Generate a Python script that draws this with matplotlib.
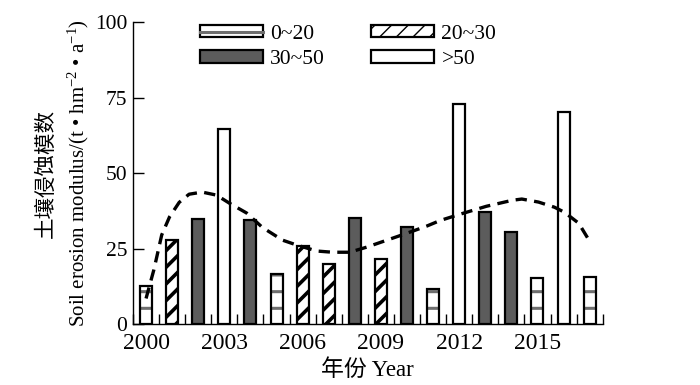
import matplotlib
matplotlib.use("Agg")
import matplotlib.pyplot as plt
from matplotlib.patches import Patch
from matplotlib.lines import Line2D
from matplotlib.legend_handler import HandlerTuple
import numpy as np

plt.rcParams['font.family'] = ['Liberation Serif', 'Noto Sans CJK SC']
plt.rcParams['mathtext.fontset'] = 'custom'
plt.rcParams['mathtext.rm'] = 'Liberation Serif'
plt.rcParams['mathtext.it'] = 'Liberation Serif:italic'

# ---- data ----
years = list(range(2000, 2018))
values = [12.5, 28.0, 34.8, 64.5, 34.5, 16.5, 26.0, 20.0, 35.0, 21.5,
          32.2, 11.6, 73.0, 37.0, 30.5, 15.2, 70.2, 15.6]
classes = ['0~20', '20~30', '30~50', '>50', '30~50', '0~20', '20~30', '20~30', '30~50', '20~30',
           '30~50', '0~20', '>50', '30~50', '30~50', '0~20', '>50', '0~20']
legend_labels = ['0~20', '20~30', '30~50', '>50']

curve_years = [2000.0, 2000.3, 2000.6, 2000.9, 2001.27, 2001.65, 2002.15, 2002.7, 2003.2,
               2003.85, 2004.46, 2005.23, 2005.77, 2006.54, 2007.15, 2007.8, 2008.46,
               2009.23, 2010.0, 2010.77, 2011.27, 2012.04, 2013.04, 2014.04, 2014.4,
               2015.04, 2015.65, 2016.04, 2016.58, 2016.96]
curve_values = [8.5, 18.0, 29.5, 35.5, 40.3, 43.0, 43.7, 42.7, 40.0,
                36.8, 32.0, 27.8, 26.2, 24.2, 23.8, 23.8, 25.5,
                27.8, 30.1, 32.5, 34.3, 36.4, 39.0, 41.0, 41.4,
                40.4, 38.7, 37.0, 33.4, 28.0]

x_ticks = [2000, 2003, 2006, 2009, 2012, 2015]
y_ticks = [0, 25, 50, 75, 100]

# ---- styles ----
styles = {
    '0~20':  dict(face='white', hatch='-', hcol='#6e6e6e', hlw=2.2),
    '20~30': dict(face='white', hatch='//', hcol='black', hlw=2.6),
    '30~50': dict(face='#5c5c5c', hatch=None, hcol='#5c5c5c', hlw=1.0),
    '>50':   dict(face='white', hatch=None, hcol='black', hlw=1.0),
}

fig = plt.figure(figsize=(7.0, 3.85), dpi=100)
ax = fig.add_axes([0.19, 0.158, 0.671, 0.785])

bw = 0.46
for cls in legend_labels:
    xs = [y for y, c in zip(years, classes) if c == cls]
    vs = [v for v, c in zip(values, classes) if c == cls]
    st = styles[cls]
    with plt.rc_context({'hatch.linewidth': st['hlw']}):
        bars = ax.bar(xs, vs, width=bw, color=st['face'], edgecolor=st['hcol'],
                      linewidth=0, hatch=st['hatch'], zorder=2)
        for b in bars:
            if hasattr(b, 'set_hatch_linewidth'):
                b.set_hatch_linewidth(st['hlw'])
    ax.bar(xs, vs, width=bw, fill=False, edgecolor='black', linewidth=1.6, zorder=3)

ax.plot(curve_years, curve_values, color='black', linewidth=2.4,
        linestyle=(0, (3.4, 2.2)), zorder=4)

ax.set_xlim(1999.5, 2017.5)
ax.set_ylim(0, 100)
ax.set_xticks(x_ticks)
ax.set_xticks(np.arange(1999.5, 2017.6, 1.0), minor=True)
ax.set_yticks(y_ticks)
ax.tick_params(axis='both', which='both', direction='in', width=1.0)
ax.tick_params(axis='x', which='major', length=0, pad=6, labelsize=17)
ax.tick_params(axis='x', which='minor', length=7)
ax.tick_params(axis='y', which='major', length=8, pad=4, labelsize=15.5)
for s in ['top', 'right']:
    ax.spines[s].set_visible(False)
for s in ['left', 'bottom']:
    ax.spines[s].set_linewidth(1.0)

ax.set_xlabel('年份 Year', fontsize=16.5, labelpad=4)

fig.text(47 / 700, 1 - 173 / 385, '土壤侵蚀模数', rotation=90, ha='center', va='center', fontsize=15.5)
fig.text(78 / 700, 1 - 173 / 385, 'Soil erosion modulus/(t • hm$^{-2}$ • a$^{-1}$)',
         rotation=90, ha='center', va='center', fontsize=15)

# legend (row-major order: 0~20, 20~30 / 30~50, >50)
handles = {}
for cls in legend_labels:
    st = styles[cls]
    if st['hatch'] == '-':
        box = Patch(facecolor=st['face'], edgecolor='black', linewidth=1.6)
        mid = Line2D([], [], color=st['hcol'], linewidth=2.2)
        handles[cls] = (box, mid)
    else:
        handles[cls] = Patch(facecolor=st['face'], edgecolor='black', hatch=st['hatch'],
                             linewidth=1.6)
order = [legend_labels[0], legend_labels[2], legend_labels[1], legend_labels[3]]
leg = ax.legend(handles=[handles[c] for c in order], labels=order, ncol=2, loc='upper left',
                bbox_to_anchor=(0.125, 1.02),
                handler_map={tuple: HandlerTuple(ndivide=1, pad=0)},
                frameon=False, fontsize=15.5, handlelength=2.9, handleheight=0.55,
                handletextpad=0.35, columnspacing=2.15, labelspacing=0.3, borderaxespad=0)

fig.savefig('out.png', dpi=100)
